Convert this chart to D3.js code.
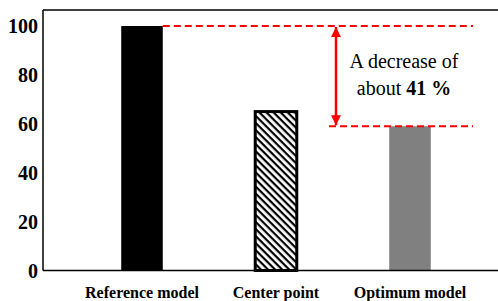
<!DOCTYPE html>
<html><body style="margin:0">
<script src="https://cdn.jsdelivr.net/npm/d3@7"></script>
<script>
var categories = ["Reference model", "Center point", "Optimum model"],
    values     = [100, 65, 59],
    yTicks     = [0, 20, 40, 60, 80, 100],
    noteLines  = ["A decrease of", "about "],
    noteBold   = "41 %";

var W = 498, H = 301,
    left = 43, frameTop = 10, bottom = 270.5,
    serif = "'Liberation Serif', serif";

var svg = d3.select("body").append("svg")
          .attr("width", W).attr("height", H)
          .style("display", "block")
          .style("font-family", serif);

var defs = svg.append("defs");
var pat = defs.append("pattern")
          .attr("id", "hatch")
          .attr("patternUnits", "userSpaceOnUse")
          .attr("width", 5).attr("height", 5)
          .attr("patternTransform", "rotate(45)");
pat.append("rect").attr("width", 5).attr("height", 5).attr("fill", "#fff");
pat.append("rect").attr("width", 5).attr("height", 2.2).attr("fill", "#000");

var x = d3.scaleBand()
        .domain(categories)
        .range([75, 477])
        .paddingInner(0.69)
        .paddingOuter(0.345);

var y = d3.scaleLinear()
        .domain([0, 100])
        .range([bottom, 26]);

// frame top line
svg.append("line")
   .attr("x1", left).attr("x2", W).attr("y1", frameTop).attr("y2", frameTop)
   .attr("stroke", "#000").attr("stroke-width", 1.5);

// bars
var fills = ["#000", "url(#hatch)", "#808080"];
svg.selectAll("rect.bar")
   .data(values)
   .enter()
   .append("rect")
   .attr("class", "bar")
   .attr("x", function (d, i) { return x(categories[i]); })
   .attr("width", x.bandwidth())
   .attr("y", function (d) { return y(d); })
   .attr("height", function (d) { return y(0) - y(d); })
   .attr("fill", function (d, i) { return fills[i]; })
   .attr("stroke", function (d, i) { return i == 1 ? "#000" : "none"; })
   .attr("stroke-width", 3);

svg.append("line")
   .attr("x1", left).attr("x2", left).attr("y1", frameTop).attr("y2", bottom)
   .attr("stroke", "#000").attr("stroke-width", 1.5);
svg.append("line")
   .attr("x1", left).attr("x2", W).attr("y1", bottom).attr("y2", bottom)
   .attr("stroke", "#000").attr("stroke-width", 1.5);

// tick labels from the scales
svg.selectAll("text.ytick")
   .data(yTicks)
   .enter()
   .append("text")
   .attr("class", "ytick")
   .attr("x", left - 5)
   .attr("y", function (d) { return y(d); })
   .attr("dy", "0.35em")
   .attr("text-anchor", "end")
   .style("font-family", serif)
   .style("font-size", "20px")
   .style("font-weight", "bold")
   .text(function (d) { return d; });

svg.selectAll("text.xtick")
   .data(categories)
   .enter()
   .append("text")
   .attr("class", "xtick")
   .attr("x", function (d) { return x(d) + x.bandwidth() / 2; })
   .attr("y", bottom + 27)
   .attr("text-anchor", "middle")
   .style("font-family", serif)
   .style("font-size", "16px")
   .style("font-weight", "bold")
   .text(function (d) { return d; });

// dashed red guides
var red = "#ff0000", dashEnd = 473;
svg.append("line")
   .attr("x1", x(categories[0]) + x.bandwidth()).attr("x2", dashEnd)
   .attr("y1", y(values[0])).attr("y2", y(values[0]))
   .attr("stroke", red).attr("stroke-width", 2.2)
   .attr("stroke-dasharray", "7,4");
svg.append("line")
   .attr("x1", 329).attr("x2", dashEnd)
   .attr("y1", y(values[2])).attr("y2", y(values[2]))
   .attr("stroke", red).attr("stroke-width", 2.2)
   .attr("stroke-dasharray", "7,4");

// double arrow
var ax = 336;
defs.append("marker")
    .attr("id", "ah")
    .attr("viewBox", "0 0 10 10")
    .attr("refX", 10).attr("refY", 5)
    .attr("markerWidth", 4).attr("markerHeight", 4)
    .attr("orient", "auto-start-reverse")
    .append("path").attr("d", "M0,0L10,5L0,10z").attr("fill", red);
svg.append("line")
   .attr("x1", ax).attr("x2", ax)
   .attr("y1", y(values[0]) + 1).attr("y2", y(values[2]) - 1)
   .attr("stroke", red).attr("stroke-width", 2.5)
   .attr("marker-start", "url(#ah)")
   .attr("marker-end", "url(#ah)");

// annotation
var note = svg.append("text")
   .style("font-family", serif)
   .style("font-size", "20px")
   .attr("text-anchor", "middle");
note.append("tspan").attr("x", 404).attr("y", 68).text(noteLines[0]);
note.append("tspan").attr("x", 404).attr("y", 95).text(noteLines[1]);
note.append("tspan").style("font-weight", "bold").text(noteBold);
</script>
</body></html>
